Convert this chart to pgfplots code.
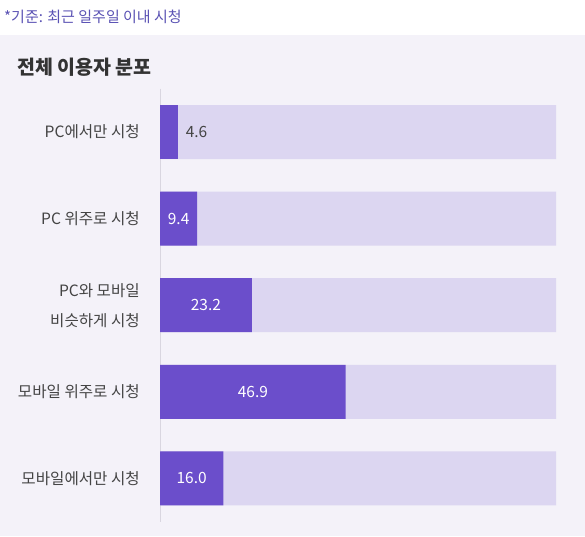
\documentclass[border=0pt]{standalone}
\usepackage{fontspec}
\setmainfont{Noto Sans CJK KR}
\usepackage{pgfplots}
\pgfplotsset{compat=1.18}
\definecolor{panel}{HTML}{F4F2F9}
\definecolor{bglight}{HTML}{DCD6F1}
\definecolor{barpurple}{HTML}{6B4ECB}
\definecolor{notec}{HTML}{5A52B4}
\definecolor{titlec}{HTML}{333333}
\definecolor{labelc}{HTML}{444444}
\definecolor{axisc}{HTML}{D9D6E0}
\begin{document}
\begin{tikzpicture}
\fill[white] (0,0) rectangle (585pt,-536pt);
\fill[panel] (0,-35pt) rectangle (585pt,-536pt);
\node[anchor=west, inner sep=0pt, text=notec, font=\fontsize{15}{18}\selectfont] at (4pt,-17pt) {*기준: 최근 일주일 이내 시청};
\node[anchor=west, inner sep=0pt, text=titlec, font=\bfseries\fontsize{19.5}{22}\selectfont] at (17pt,-67pt) {전체 이용자 분포};
\begin{axis}[
  at={(160pt,-88.7pt)}, anchor=north west,
  scale only axis, width=396pt, height=433pt,
  xmin=0, xmax=100, ymin=-0.5, ymax=4.5, y dir=reverse,
  xbar, bar width=54pt, bar shift=0pt,
  axis x line=none, axis y line*=left,
  axis line style={-, draw=axisc, line width=1pt},
  ytick={0,1,2,3,4},
  yticklabels={PC에서만 시청, PC 위주로 시청, {PC와 모바일\\비슷하게 시청}, 모바일 위주로 시청, 모바일에서만 시청},
  major tick length=0pt,
  y tick label style={inner sep=0pt, xshift=-20pt, align=right, text=labelc, font=\fontsize{15.6}{30}\selectfont},
  /pgf/number format/assume math mode=true,
  point meta=x,
  nodes near coords={\pgfmathprintnumber[fixed,fixed zerofill,precision=1]{\pgfplotspointmeta}},
  every node near coord/.append style={font=\fontsize{15.5}{18}\selectfont},
]
\addplot[fill=bglight, draw=none, nodes near coords=] coordinates {(100,0) (100,1) (100,2) (100,3) (100,4)};
\addplot[fill=barpurple, draw=none, nodes near coords style={anchor=west, text=labelc, xshift=4pt}] coordinates {(4.6,0)};
\addplot[fill=barpurple, draw=none, visualization depends on={x \as \rawx},
  nodes near coords style={anchor=center, text=white, shift={(axis direction cs:-\rawx/2,0)}}]
  coordinates {(9.4,1) (23.2,2) (46.9,3) (16.0,4)};
\end{axis}
\pgfresetboundingbox
\path (0,0) rectangle (585pt,-536pt);
\end{tikzpicture}
\end{document}
